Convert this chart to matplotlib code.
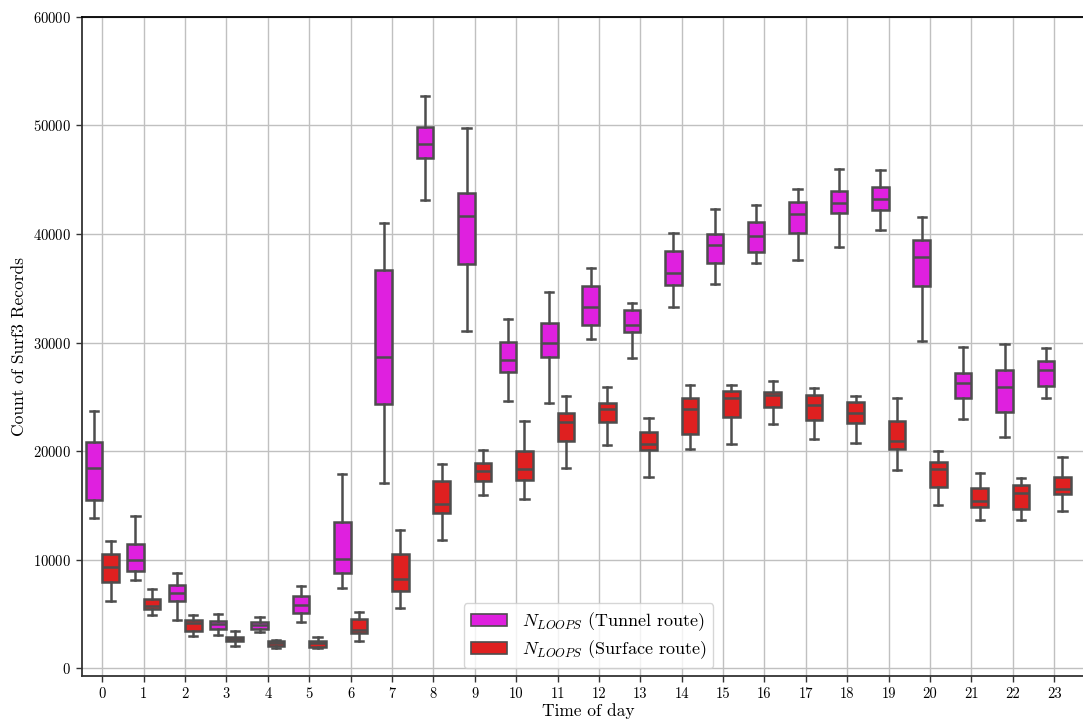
import matplotlib
matplotlib.use("Agg")
import matplotlib.pyplot as plt
from matplotlib.patches import Patch

plt.rcParams['font.family'] = 'serif'
plt.rcParams['font.serif'] = ['cmr10']
plt.rcParams['mathtext.fontset'] = 'cm'
plt.rcParams['axes.unicode_minus'] = False
plt.rcParams['axes.formatter.use_mathtext'] = True

hours = list(range(24))

# tunnel route box stats
tunnel_whislo = [13830, 8110, 4420, 3100, 3380, 4300, 7400, 17020, 43110, 31090, 24640, 24390,
                 30290, 28540, 33240, 35390, 37360, 37570, 38770, 40340, 30140, 22950, 21290, 24850]
tunnel_q1 = [15510, 8940, 6180, 3660, 3660, 5070, 8790, 24300, 46980, 37270, 27250, 28690,
             31610, 31000, 35340, 37330, 38370, 40090, 41900, 42180, 35240, 24850, 23560, 25990]
tunnel_med = [18460, 9950, 6980, 4120, 4030, 5840, 10050, 28690, 48300, 41690, 28360, 29920,
              33300, 31640, 36420, 38960, 39790, 41840, 42830, 43260, 37910, 26290, 25870, 27430]
tunnel_q3 = [20800, 11460, 7680, 4390, 4300, 6640, 13460, 36650, 49860, 43750, 30080, 31800,
             35240, 33030, 38460, 39970, 41110, 42950, 43990, 44300, 39420, 27160, 27430, 28330]
tunnel_whishi = [23690, 14010, 8790, 5040, 4760, 7620, 17880, 40990, 52720, 49770, 32140, 34650,
                 36870, 33640, 40080, 42300, 42670, 44090, 45960, 45870, 41540, 29550, 29890, 29520]

# surface route box stats
surface_whislo = [6180, 4950, 2980, 2090, 1840, 1870, 2490, 5560, 11800, 15960, 15600, 18400,
                  20520, 17600, 20210, 20650, 22460, 21080, 20710, 18220, 15020, 13700, 13700, 14470]
surface_q1 = [7960, 5500, 3470, 2490, 2090, 1970, 3290, 7100, 14260, 17210, 17350, 20890,
              22680, 20060, 21540, 23130, 24060, 22890, 22550, 20150, 16660, 14840, 14690, 16070]
surface_med = [9340, 5750, 4180, 2700, 2300, 2300, 3500, 8200, 15140, 18190, 18370, 22640,
               23840, 20640, 23870, 24890, 25130, 24240, 23530, 20950, 18310, 15450, 16160, 16530]
surface_q3 = [10510, 6360, 4460, 2920, 2520, 2550, 4520, 10510, 17240, 18920, 19990, 23490,
              24440, 21770, 24850, 25560, 25410, 25190, 24490, 22770, 19010, 16590, 16900, 17630]
surface_whishi = [11740, 7340, 4890, 3470, 2640, 2860, 5190, 12750, 18830, 20120, 22780, 25060,
                  25940, 23030, 26050, 26050, 26480, 25810, 25040, 24850, 20030, 17940, 17570, 19450]

tunnel_label = r'$N_{LOOPS}$ (Tunnel route)'
surface_label = r'$N_{LOOPS}$ (Surface route)'
tunnel_color = '#df20df'
surface_color = '#df2020'
edge = '#4d4d4d'


def make_stats(lo, q1, med, q3, hi):
    return [dict(whislo=a, q1=b, med=c, q3=d, whishi=e, fliers=[])
            for a, b, c, d, e in zip(lo, q1, med, q3, hi)]


fig = plt.figure(figsize=(10.83, 7.2), dpi=100)
ax = fig.add_axes([81.6 / 1083, 44.3 / 720, (1095.6 - 81.6) / 1083, 659 / 720])
ax.set_axisbelow(True)
ax.grid(True, color='#c0c0c0', linewidth=1.0)

line_kw = dict(color=edge, linewidth=1.8)
for stats, color, offset in [
    (make_stats(tunnel_whislo, tunnel_q1, tunnel_med, tunnel_q3, tunnel_whishi), tunnel_color, -0.2),
    (make_stats(surface_whislo, surface_q1, surface_med, surface_q3, surface_whishi), surface_color, 0.2),
]:
    ax.bxp(stats, positions=[h + offset for h in hours], widths=0.4, capwidths=0.2,
           patch_artist=True, showfliers=False, manage_ticks=False,
           boxprops=dict(facecolor=color, edgecolor=edge, linewidth=1.8),
           medianprops=line_kw, whiskerprops=line_kw, capprops=line_kw)

ax.set_xlim(-0.5, 24)
ax.set_ylim(-680, 60000)
ax.set_xticks(hours)
ax.set_xticklabels([str(h) for h in hours])
ax.set_yticks(range(0, 60001, 10000))
ax.tick_params(labelsize=10.5, color='#333333', width=1.0, length=4.5)

for side in ['left', 'bottom']:
    ax.spines[side].set_color('#333333')
    ax.spines[side].set_linewidth(1.3)
ax.spines['top'].set_color('black')
ax.spines['top'].set_linewidth(1.3)
ax.spines['right'].set_visible(False)

ax.set_xlabel('Time of day', fontsize=12.5, labelpad=2)
ax.set_ylabel('Count of Surf3 Records', fontsize=12.5)

handles = [Patch(facecolor=tunnel_color, edgecolor=edge, linewidth=1.2, label=tunnel_label),
           Patch(facecolor=surface_color, edgecolor=edge, linewidth=1.2, label=surface_label)]
ax.legend(handles=handles, loc='lower center', fontsize=13, labelspacing=0.3,
          borderaxespad=0.4)

fig.savefig('out.png', dpi=100)
